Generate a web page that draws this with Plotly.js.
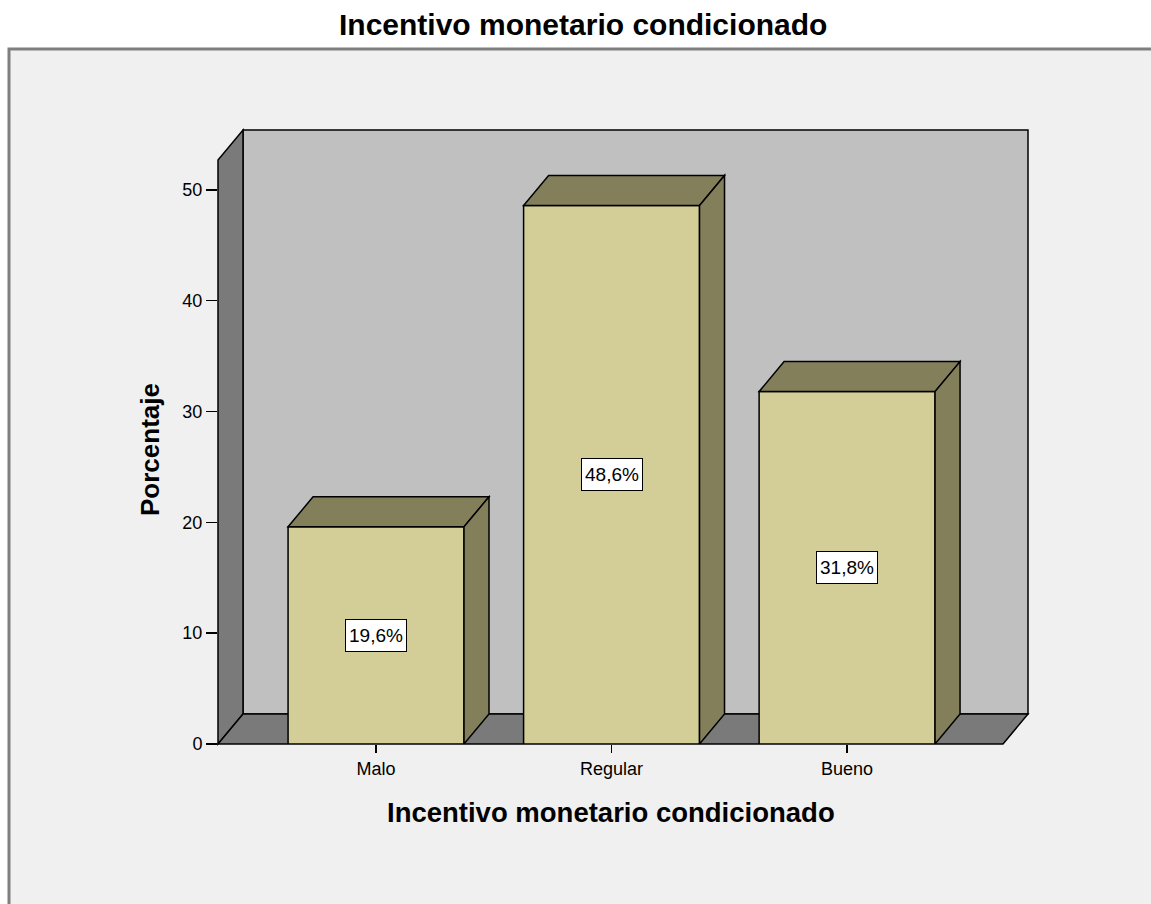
<!DOCTYPE html>
<html><head><meta charset="utf-8">
<script src="https://cdn.plot.ly/plotly-3.0.1.min.js"></script>
<style>html,body{margin:0;padding:0;background:#fff}</style>
</head><body><div id="chart" style="width:1151px;height:904px"></div>
<script>
// ---- data ----
const categories = ["Malo", "Regular", "Bueno"];
const positions = [0, 1, 2];
const percentages = [19.6, 48.6, 31.8];
const valueLabels = ["19,6%", "48,6%", "31,8%"];
const yTickVals = [0, 10, 20, 30, 40, 50];
const chartTitle = "Incentivo monetario condicionado";
const xTitle = "Incentivo monetario condicionado";
const yTitle = "Porcentaje";

// ---- layout constants ----
const W = 1151, H = 904;
const M = {l: 218, r: 148, t: 160, b: 160};
const plotW = W - M.l - M.r, plotH = H - M.t - M.b;
const xr = [-0.671, 2.662], yr = [0, 52.7];
const barWidth = 0.747;
const depthPx = {x: 25, y: 30};
const DX = depthPx.x * (xr[1] - xr[0]) / plotW;
const DY = depthPx.y * (yr[1] - yr[0]) / plotH;
const FONT = "Liberation Sans, Arial, sans-serif";

const toPX = x => (x - xr[0]) / (xr[1] - xr[0]);
const toPY = y => (y - yr[0]) / (yr[1] - yr[0]);
const pixX = px => (px - M.l) / plotW;
const pixY = py => (H - M.b - py) / plotH;
function pathPaper(pts) { return 'M' + pts.map(p => toPX(p[0]).toFixed(5) + ',' + toPY(p[1]).toFixed(5)).join('L') + 'Z'; }
function pathData(pts) { return 'M' + pts.map(p => p[0].toFixed(5) + ',' + p[1].toFixed(5)).join('L') + 'Z'; }

const edge = {color: '#000', width: 1.5};
const shapes = [];
// frame
shapes.push({type: 'rect', xref: 'paper', yref: 'paper', layer: 'below',
  x0: pixX(9), x1: pixX(1170), y0: pixY(49), y1: pixY(930),
  fillcolor: '#f0f0f0', line: {color: '#7f7f7f', width: 3}});
// walls & floor
shapes.push({type: 'path', xref: 'paper', yref: 'paper', layer: 'below', fillcolor: '#c0c0c0', line: edge,
  path: pathPaper([[xr[0] + DX, DY], [xr[1] + DX, DY], [xr[1] + DX, yr[1] + DY], [xr[0] + DX, yr[1] + DY]])});
shapes.push({type: 'path', xref: 'paper', yref: 'paper', layer: 'below', fillcolor: '#7a7a7a', line: edge,
  path: pathPaper([[xr[0], 0], [xr[0] + DX, DY], [xr[0] + DX, yr[1] + DY], [xr[0], yr[1]]])});
shapes.push({type: 'path', xref: 'paper', yref: 'paper', layer: 'below', fillcolor: '#7a7a7a', line: edge,
  path: pathPaper([[xr[0], 0], [xr[1], 0], [xr[1] + DX, DY], [xr[0] + DX, DY]])});
// bar 3D faces
const hw = barWidth / 2;
positions.forEach((x, i) => {
  const v = percentages[i];
  shapes.push({type: 'path', xref: 'x', yref: 'y', layer: 'above', fillcolor: '#837f5b', line: edge,
    path: pathData([[x - hw, v], [x + hw, v], [x + hw + DX, v + DY], [x - hw + DX, v + DY]])});
  shapes.push({type: 'path', xref: 'x', yref: 'y', layer: 'above', fillcolor: '#837f5b', line: edge,
    path: pathData([[x + hw, 0], [x + hw + DX, DY], [x + hw + DX, v + DY], [x + hw, v]])});
});

const annotations = positions.map((x, i) => ({
  x: x, y: percentages[i] / 2, xref: 'x', yref: 'y', text: valueLabels[i], showarrow: false,
  xanchor: 'center', yanchor: 'middle', width: 58, height: 29,
  font: {family: FONT, size: 19, color: '#000'}, bgcolor: '#fff', bordercolor: '#000', borderwidth: 1, borderpad: 1
}));
annotations.push({x: pixX(583), y: pixY(25), xref: 'paper', yref: 'paper', text: chartTitle, showarrow: false,
  xanchor: 'center', yanchor: 'middle',
  font: {family: FONT, size: 30, color: '#000', weight: 'bold'}});
annotations.push({x: pixX(611), y: pixY(812), xref: 'paper', yref: 'paper', text: xTitle, showarrow: false,
  xanchor: 'center', yanchor: 'middle',
  font: {family: FONT, size: 27.5, color: '#000', weight: 'bold'}});
annotations.push({x: pixX(150), y: pixY(450), xref: 'paper', yref: 'paper', text: yTitle, showarrow: false, textangle: -90,
  xanchor: 'center', yanchor: 'middle',
  font: {family: FONT, size: 26, color: '#000', weight: 'bold'}});

const trace = {
  type: 'bar', x: positions, y: percentages, width: barWidth,
  marker: {color: '#d3ce98', line: edge}, hoverinfo: 'skip'
};

const layout = {
  width: W, height: H, margin: M, showlegend: false,
  paper_bgcolor: '#ffffff', plot_bgcolor: 'rgba(0,0,0,0)',
  font: {family: FONT, color: '#000'},
  xaxis: {range: xr, tickmode: 'array', tickvals: positions, ticktext: categories,
    ticks: 'outside', ticklen: 8, tickwidth: 1.5, tickcolor: '#000',
    showline: false, showgrid: false, zeroline: false, tickfont: {size: 18, family: FONT, color: '#000'}},
  yaxis: {range: yr, tickmode: 'array', tickvals: yTickVals,
    ticks: 'outside', ticklen: 11, tickwidth: 1.5, tickcolor: '#000',
    showline: false, showgrid: false, zeroline: false, tickfont: {size: 18, family: FONT, color: '#000'}},
  shapes: shapes, annotations: annotations
};
Plotly.newPlot('chart', [trace], layout, {displayModeBar: false, staticPlot: true});
</script>
</body></html>
